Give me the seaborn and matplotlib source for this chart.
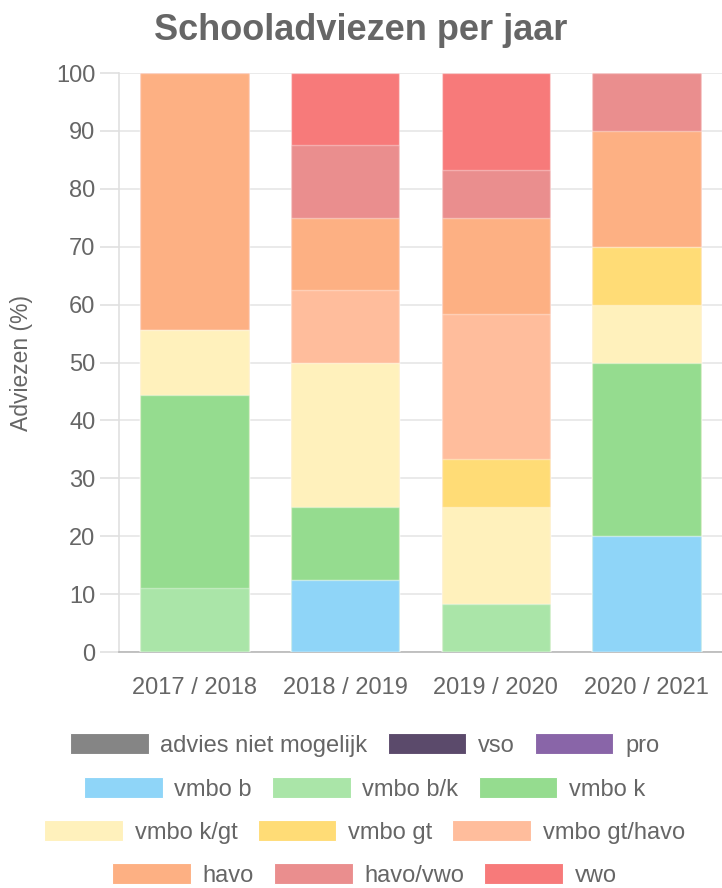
import numpy as np
import pandas as pd
import matplotlib
matplotlib.use("Agg")
import matplotlib.pyplot as plt
import seaborn as sns
from matplotlib.patches import Patch

# ---- data ----
years = ['2017 / 2018', '2018 / 2019', '2019 / 2020', '2020 / 2021']
levels = ['advies niet mogelijk', 'vso', 'pro', 'vmbo b', 'vmbo b/k', 'vmbo k',
          'vmbo k/gt', 'vmbo gt', 'vmbo gt/havo', 'havo', 'havo/vwo', 'vwo']
advies_niet_mogelijk = [0, 0, 0, 0]
vso = [0, 0, 0, 0]
pro = [0, 0, 0, 0]
vmbo_b = [0, 12.5, 0, 20]
vmbo_bk = [11.11, 0, 8.33, 0]
vmbo_k = [33.33, 12.5, 0, 30]
vmbo_kgt = [11.11, 25, 16.67, 10]
vmbo_gt = [0, 0, 8.33, 10]
vmbo_gthavo = [0, 12.5, 25, 0]
havo = [44.45, 12.5, 16.67, 20]
havo_vwo = [0, 12.5, 8.33, 10]
vwo = [0, 12.5, 16.67, 0]
series = [advies_niet_mogelijk, vso, pro, vmbo_b, vmbo_bk, vmbo_k,
          vmbo_kgt, vmbo_gt, vmbo_gthavo, havo, havo_vwo, vwo]
colors = ['#858585', '#5b4a6b', '#8965a8', '#8fd5f8', '#aae5a8', '#95dc8f',
          '#fff1bc', '#ffdc76', '#ffbd9c', '#fdb083', '#ea8e8e', '#f77a7a']
yticks = list(range(0, 101, 10))

rows = []
for lvl, vals in zip(levels, series):
    for yr, v in zip(years, vals):
        rows.append({'year': yr, 'level': lvl, 'value': v})
df = pd.DataFrame(rows)
df['level'] = pd.Categorical(df['level'], categories=levels, ordered=True)
df = df.sort_values(['year', 'level'])
df['cum'] = df.groupby('year')['value'].cumsum()

sns.set_theme(style="white")
plt.rcParams['font.family'] = ['Liberation Sans', 'DejaVu Sans']
TXT = '#666666'

fig = plt.figure(figsize=(7.22, 8.88), dpi=100)
ax = fig.add_axes([119/722, 1-652/888, 1-119/722, (652-73)/888])

for lvl, col in zip(levels[::-1], colors[::-1]):
    sub = df[df['level'] == lvl]
    sns.barplot(data=sub, x='year', y='cum', order=years, color=col,
                saturation=1, width=0.72, ax=ax, linewidth=1,
                edgecolor=(1, 1, 1, 0.35), zorder=3)

ax.set_ylim(0, 100)
ax.set_xlim(-0.5, 3.5)
ax.set_yticks(yticks)
ax.set_yticklabels([str(t) for t in yticks])
ax.grid(axis='y', color='#e6e6e6', linewidth=1.2, zorder=0)
ax.set_axisbelow(True)
ax.tick_params(axis='y', length=14, width=1.2, color='#e0e0e0', pad=3,
               labelsize=17, labelcolor=TXT, left=True)
ax.tick_params(axis='x', length=0, pad=18, labelsize=17, labelcolor=TXT)
for s in ['top', 'right']:
    ax.spines[s].set_visible(False)
ax.spines['left'].set_color('#e0e0e0')
ax.spines['left'].set_linewidth(1.2)
ax.spines['bottom'].set_color('#b8b8b8')
ax.spines['bottom'].set_linewidth(1.2)
ax.set_xlabel('')
ax.set_ylabel('Adviezen (%)', fontsize=16.5, color=TXT)
ax.yaxis.set_label_coords(-(119-33)/603, 0.5)

fig.text(0.5, 1-30/888, 'Schooladviezen per jaar', ha='center', va='center',
         fontsize=26, fontweight='bold', color=TXT)

# legend rows
row_y = [745, 789, 832, 875]
for r in range(4):
    handles = []
    for i in range(r*3, r*3+3):
        handles.append(Patch(facecolor=colors[i], edgecolor='#ffffff', linewidth=0.8,
                             label=levels[i]))
    leg = fig.legend(handles=handles, loc='center', bbox_to_anchor=(0.505, 1-row_y[r]/888),
                     ncol=3, frameon=False, fontsize=17, handlelength=3.33,
                     handleheight=0.96, handletextpad=0.5, columnspacing=0.85,
                     borderpad=0, borderaxespad=0)
    for t in leg.get_texts():
        t.set_color(TXT)

fig.savefig('out.png', dpi=100)
